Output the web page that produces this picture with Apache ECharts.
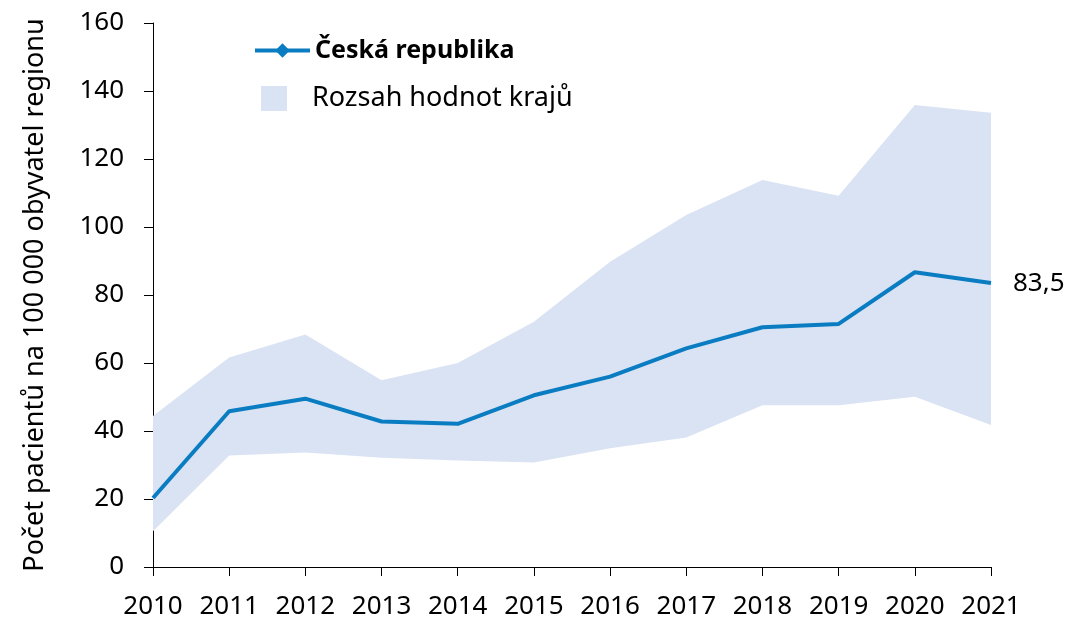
<!DOCTYPE html>
<html>
<head>
<meta charset="utf-8">
<script src="https://cdn.jsdelivr.net/npm/echarts@6/dist/echarts.min.js"></script>
<style>
  html, body { margin: 0; padding: 0; background: #fff; }
  #chart { width: 1073px; height: 620px; }
</style>
</head>
<body>
<div id="chart"></div>
<script>
// Počet pacientů na 100 000 obyvatel regionu, 2010–2021
const years = ['2010', '2011', '2012', '2013', '2014', '2015', '2016', '2017', '2018', '2019', '2020', '2021'];
// Česká republika
const czValues = [20.3, 45.8, 49.5, 42.8, 42.1, 50.5, 56.0, 64.3, 70.5, 71.5, 86.7, 83.5];
// Rozsah hodnot krajů: minimum and maximum across regions
const regionMin = [10.5, 32.8, 33.7, 32.1, 31.3, 30.7, 34.9, 38.1, 47.6, 47.6, 50.1, 41.8];
const regionMax = [44.4, 61.6, 68.4, 54.9, 60.0, 72.1, 89.8, 103.5, 113.8, 109.2, 135.9, 133.6];
const yTicks = { min: 0, max: 160, interval: 20 };

const FONT = '"Noto Sans", "Open Sans", sans-serif';
const LINE_COLOR = '#0a7dc2';
const BAND_COLOR = '#dae3f3';
const AXIS_COLOR = '#000';

// band height stacked on top of the minimum
const bandSpan = regionMax.map((v, i) => +(v - regionMin[i]).toFixed(2));

const chart = echarts.init(document.getElementById('chart'), null, { renderer: 'canvas' });

chart.setOption({
  animation: false,
  backgroundColor: '#fff',
  textStyle: { fontFamily: FONT, color: '#000' },
  grid: { left: 153, right: 82, top: 23, bottom: 53, containLabel: false },
  legend: [
    {
      data: ['Česká republika'],
      left: 248,
      top: 33,
      itemWidth: 55,
      itemHeight: 18,
      lineStyle: { width: 4 },
      textStyle: { fontFamily: FONT, fontSize: 25, fontWeight: 'bold', color: '#000' },
      selectedMode: false
    },
    {
      data: [{ name: 'Rozsah hodnot krajů', icon: 'rect' }],
      left: 256,
      top: 80,
      itemWidth: 26,
      itemHeight: 25,
      textStyle: { fontFamily: FONT, fontSize: 27, color: '#000', padding: [0, 0, 0, 20] },
      selectedMode: false
    }
  ],
  xAxis: {
    type: 'category',
    data: years,
    boundaryGap: false,
    axisLine: { show: true, lineStyle: { color: AXIS_COLOR, width: 1 } },
    axisTick: { show: true, alignWithLabel: true, length: 9, inside: false, lineStyle: { color: AXIS_COLOR } },
    axisLabel: { fontFamily: FONT, fontSize: 26, color: '#000', margin: 27, interval: 0 },
    splitLine: { show: false }
  },
  yAxis: {
    type: 'value',
    min: yTicks.min,
    max: yTicks.max,
    interval: yTicks.interval,
    name: 'Počet pacientů na 100 000 obyvatel regionu',
    nameLocation: 'middle',
    nameGap: 104,
    nameRotate: 90,
    nameTextStyle: { fontFamily: FONT, fontSize: 27, color: '#000' },
    axisLine: { show: true, lineStyle: { color: AXIS_COLOR, width: 1 } },
    axisTick: { show: true, length: 9, inside: false, lineStyle: { color: AXIS_COLOR } },
    axisLabel: { fontFamily: FONT, fontSize: 26, color: '#000', margin: 29 },
    splitLine: { show: false }
  },
  series: [
    {
      name: 'base',
      type: 'line',
      stack: 'band',
      data: regionMin,
      symbol: 'none',
      lineStyle: { width: 0, opacity: 0 },
      areaStyle: { opacity: 0 },
      silent: true,
      z: 1
    },
    {
      name: 'Rozsah hodnot krajů',
      type: 'line',
      stack: 'band',
      data: bandSpan,
      symbol: 'none',
      itemStyle: { color: BAND_COLOR },
      lineStyle: { width: 0, opacity: 0 },
      areaStyle: { color: BAND_COLOR, opacity: 1 },
      silent: true,
      z: 1
    },
    {
      name: 'Česká republika',
      type: 'line',
      data: czValues,
      symbol: 'diamond',
      symbolSize: 14,
      showSymbol: false,
      itemStyle: { color: LINE_COLOR },
      lineStyle: { color: LINE_COLOR, width: 4 },
      z: 3,
      endLabel: {
        show: true,
        distance: 22,
        fontFamily: FONT,
        fontSize: 26,
        color: '#000',
        formatter: p => String(p.value).replace('.', ',')
      }
    }
  ]
});
</script>
</body>
</html>
